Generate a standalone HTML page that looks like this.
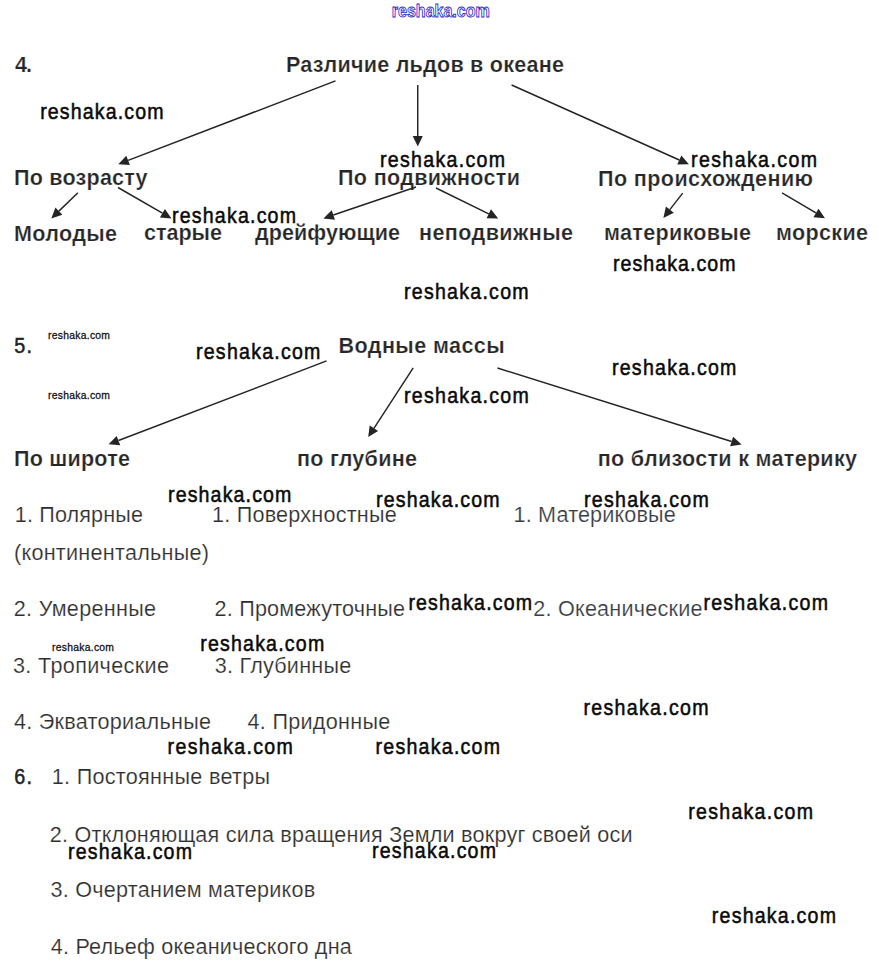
<!DOCTYPE html><html><head><meta charset="utf-8"><style>html,body{margin:0;padding:0;background:#fff;width:879px;height:979px;overflow:hidden}svg{display:block}</style></head><body>
<svg width="879" height="979" viewBox="0 0 879 979" font-family="Liberation Sans, sans-serif">
<rect width="879" height="979" fill="#fff"/>
<text transform="translate(15.00,72) scale(0.98,1)" font-size="22" font-weight="bold" fill="#262626" stroke="#fff" stroke-width="0.25" textLength="17.35" lengthAdjust="spacing">4.</text>
<text transform="translate(286.00,72) scale(0.98,1)" font-size="22" font-weight="bold" fill="#262626" stroke="#fff" stroke-width="0.25" textLength="283.67" lengthAdjust="spacing">Различие льдов в океане</text>
<text transform="translate(14.00,185) scale(0.98,1)" font-size="22" font-weight="bold" fill="#262626" stroke="#fff" stroke-width="0.25" textLength="136.33" lengthAdjust="spacing">По возрасту</text>
<text transform="translate(338.00,185) scale(0.98,1)" font-size="22" font-weight="bold" fill="#262626" stroke="#fff" stroke-width="0.25" textLength="185.71" lengthAdjust="spacing">По подвижности</text>
<text transform="translate(598.00,186) scale(0.98,1)" font-size="22" font-weight="bold" fill="#262626" stroke="#fff" stroke-width="0.25" textLength="219.39" lengthAdjust="spacing">По происхождению</text>
<text transform="translate(14.00,240.5) scale(0.98,1)" font-size="22" font-weight="bold" fill="#262626" stroke="#fff" stroke-width="0.25" textLength="105.10" lengthAdjust="spacing">Молодые</text>
<text transform="translate(144.00,240) scale(0.98,1)" font-size="22" font-weight="bold" fill="#262626" stroke="#fff" stroke-width="0.25" textLength="79.59" lengthAdjust="spacing">старые</text>
<text transform="translate(255.00,240) scale(0.98,1)" font-size="22" font-weight="bold" fill="#262626" stroke="#fff" stroke-width="0.25" textLength="147.96" lengthAdjust="spacing">дрейфующие</text>
<text transform="translate(419.00,240) scale(0.98,1)" font-size="22" font-weight="bold" fill="#262626" stroke="#fff" stroke-width="0.25" textLength="157.14" lengthAdjust="spacing">неподвижные</text>
<text transform="translate(604.00,240) scale(0.98,1)" font-size="22" font-weight="bold" fill="#262626" stroke="#fff" stroke-width="0.25" textLength="150.00" lengthAdjust="spacing">материковые</text>
<text transform="translate(776.00,240) scale(0.98,1)" font-size="22" font-weight="bold" fill="#262626" stroke="#fff" stroke-width="0.25" textLength="93.88" lengthAdjust="spacing">морские</text>
<text transform="translate(338.60,352.7) scale(0.98,1)" font-size="22" font-weight="bold" fill="#262626" stroke="#fff" stroke-width="0.25" textLength="169.39" lengthAdjust="spacing">Водные массы</text>
<text transform="translate(14.00,466) scale(0.98,1)" font-size="22" font-weight="bold" fill="#262626" stroke="#fff" stroke-width="0.25" textLength="118.37" lengthAdjust="spacing">По широте</text>
<text transform="translate(297.00,466) scale(0.98,1)" font-size="22" font-weight="bold" fill="#262626" stroke="#fff" stroke-width="0.25" textLength="122.45" lengthAdjust="spacing">по глубине</text>
<text transform="translate(597.80,466) scale(0.98,1)" font-size="22" font-weight="bold" fill="#262626" stroke="#fff" stroke-width="0.25" textLength="264.49" lengthAdjust="spacing">по близости к материку</text>
<text transform="translate(14.20,352.6) scale(0.9,1)" font-size="22" fill="#222" stroke="#222" stroke-width="0.5" textLength="19.78" lengthAdjust="spacing">5.</text>
<text transform="translate(14.20,784.4) scale(0.9,1)" font-size="22" fill="#222" stroke="#222" stroke-width="0.5" textLength="19.78" lengthAdjust="spacing">6.</text>
<text transform="translate(14.80,521.5) scale(0.96,1)" font-size="22.5" fill="#2e2e2e" stroke="#fff" stroke-width="0.2" textLength="133.54" lengthAdjust="spacing">1. Полярные</text>
<text transform="translate(14.00,560) scale(0.96,1)" font-size="22.5" fill="#2e2e2e" stroke="#fff" stroke-width="0.2" textLength="203.12" lengthAdjust="spacing">(континентальные)</text>
<text transform="translate(212.00,521.5) scale(0.96,1)" font-size="22.5" fill="#2e2e2e" stroke="#fff" stroke-width="0.2" textLength="192.50" lengthAdjust="spacing">1. Поверхностные</text>
<text transform="translate(13.80,615.7) scale(0.96,1)" font-size="22.5" fill="#2e2e2e" stroke="#fff" stroke-width="0.2" textLength="148.13" lengthAdjust="spacing">2. Умеренные</text>
<text transform="translate(214.60,615.7) scale(0.96,1)" font-size="22.5" fill="#2e2e2e" stroke="#fff" stroke-width="0.2" textLength="198.33" lengthAdjust="spacing">2. Промежуточные</text>
<text transform="translate(13.00,672.5) scale(0.96,1)" font-size="22.5" fill="#2e2e2e" stroke="#fff" stroke-width="0.2" textLength="162.50" lengthAdjust="spacing">3. Тропические</text>
<text transform="translate(214.80,672.5) scale(0.96,1)" font-size="22.5" fill="#2e2e2e" stroke="#fff" stroke-width="0.2" textLength="142.08" lengthAdjust="spacing">3. Глубинные</text>
<text transform="translate(14.00,728.75) scale(0.96,1)" font-size="22.5" fill="#2e2e2e" stroke="#fff" stroke-width="0.2" textLength="205.21" lengthAdjust="spacing">4. Экваториальные</text>
<text transform="translate(247.60,728.6) scale(0.96,1)" font-size="22.5" fill="#2e2e2e" stroke="#fff" stroke-width="0.2" textLength="148.54" lengthAdjust="spacing">4. Придонные</text>
<text transform="translate(51.80,784.4) scale(0.96,1)" font-size="22.5" fill="#2e2e2e" stroke="#fff" stroke-width="0.2" textLength="227.29" lengthAdjust="spacing">1. Постоянные ветры</text>
<text transform="translate(49.80,841.5) scale(0.96,1)" font-size="22.5" fill="#2e2e2e" stroke="#fff" stroke-width="0.2" textLength="607.08" lengthAdjust="spacing">2. Отклоняющая сила вращения Земли вокруг своей оси</text>
<text transform="translate(50.60,897) scale(0.96,1)" font-size="22.5" fill="#2e2e2e" stroke="#fff" stroke-width="0.2" textLength="275.63" lengthAdjust="spacing">3. Очертанием материков</text>
<text transform="translate(50.80,953.6) scale(0.96,1)" font-size="22.5" fill="#2e2e2e" stroke="#fff" stroke-width="0.2" textLength="313.54" lengthAdjust="spacing">4. Рельеф океанического дна</text>
<text transform="translate(513.60,521.5) scale(0.96,1)" font-size="22.5" fill="#363b44" stroke="#fff" stroke-width="0.2" textLength="168.96" lengthAdjust="spacing">1. Материковые</text>
<text transform="translate(533.20,615.7) scale(0.96,1)" font-size="22.5" fill="#363b44" stroke="#fff" stroke-width="0.2" textLength="176.46" lengthAdjust="spacing">2. Океанические</text>
<text transform="translate(40.20,119.3) scale(0.87,1)" font-size="22.5" fill="#0a0a0a" stroke="#0a0a0a" stroke-width="0.55" textLength="141.84" lengthAdjust="spacing">reshaka.com</text>
<text transform="translate(380.00,166.7) scale(0.87,1)" font-size="22.5" fill="#0a0a0a" stroke="#0a0a0a" stroke-width="0.55" textLength="143.68" lengthAdjust="spacing">reshaka.com</text>
<text transform="translate(691.00,166.7) scale(0.87,1)" font-size="22.5" fill="#0a0a0a" stroke="#0a0a0a" stroke-width="0.55" textLength="144.83" lengthAdjust="spacing">reshaka.com</text>
<text transform="translate(172.00,223.2) scale(0.87,1)" font-size="22.5" fill="#0a0a0a" stroke="#0a0a0a" stroke-width="0.55" textLength="142.53" lengthAdjust="spacing">reshaka.com</text>
<text transform="translate(613.00,271.0) scale(0.87,1)" font-size="22.5" fill="#0a0a0a" stroke="#0a0a0a" stroke-width="0.55" textLength="140.92" lengthAdjust="spacing">reshaka.com</text>
<text transform="translate(404.00,299.09999999999997) scale(0.87,1)" font-size="22.5" fill="#0a0a0a" stroke="#0a0a0a" stroke-width="0.55" textLength="143.22" lengthAdjust="spacing">reshaka.com</text>
<text transform="translate(196.00,359.4) scale(0.87,1)" font-size="22.5" fill="#0a0a0a" stroke="#0a0a0a" stroke-width="0.55" textLength="142.99" lengthAdjust="spacing">reshaka.com</text>
<text transform="translate(612.00,375.0) scale(0.87,1)" font-size="22.5" fill="#0a0a0a" stroke="#0a0a0a" stroke-width="0.55" textLength="142.99" lengthAdjust="spacing">reshaka.com</text>
<text transform="translate(404.00,402.59999999999997) scale(0.87,1)" font-size="22.5" fill="#0a0a0a" stroke="#0a0a0a" stroke-width="0.55" textLength="143.45" lengthAdjust="spacing">reshaka.com</text>
<text transform="translate(168.00,502.4) scale(0.87,1)" font-size="22.5" fill="#0a0a0a" stroke="#0a0a0a" stroke-width="0.55" textLength="141.84" lengthAdjust="spacing">reshaka.com</text>
<text transform="translate(376.00,506.59999999999997) scale(0.87,1)" font-size="22.5" fill="#0a0a0a" stroke="#0a0a0a" stroke-width="0.55" textLength="142.07" lengthAdjust="spacing">reshaka.com</text>
<text transform="translate(584.00,506.59999999999997) scale(0.87,1)" font-size="22.5" fill="#0a0a0a" stroke="#0a0a0a" stroke-width="0.55" textLength="143.45" lengthAdjust="spacing">reshaka.com</text>
<text transform="translate(408.40,610.3000000000001) scale(0.87,1)" font-size="22.5" fill="#0a0a0a" stroke="#0a0a0a" stroke-width="0.55" textLength="142.07" lengthAdjust="spacing">reshaka.com</text>
<text transform="translate(703.40,610.3000000000001) scale(0.87,1)" font-size="22.5" fill="#0a0a0a" stroke="#0a0a0a" stroke-width="0.55" textLength="143.22" lengthAdjust="spacing">reshaka.com</text>
<text transform="translate(200.20,650.9000000000001) scale(0.87,1)" font-size="22.5" fill="#0a0a0a" stroke="#0a0a0a" stroke-width="0.55" textLength="142.53" lengthAdjust="spacing">reshaka.com</text>
<text transform="translate(583.40,715.3000000000001) scale(0.87,1)" font-size="22.5" fill="#0a0a0a" stroke="#0a0a0a" stroke-width="0.55" textLength="143.91" lengthAdjust="spacing">reshaka.com</text>
<text transform="translate(167.60,753.7) scale(0.87,1)" font-size="22.5" fill="#0a0a0a" stroke="#0a0a0a" stroke-width="0.55" textLength="143.91" lengthAdjust="spacing">reshaka.com</text>
<text transform="translate(375.60,753.7) scale(0.87,1)" font-size="22.5" fill="#0a0a0a" stroke="#0a0a0a" stroke-width="0.55" textLength="142.99" lengthAdjust="spacing">reshaka.com</text>
<text transform="translate(688.20,819.1) scale(0.87,1)" font-size="22.5" fill="#0a0a0a" stroke="#0a0a0a" stroke-width="0.55" textLength="143.45" lengthAdjust="spacing">reshaka.com</text>
<text transform="translate(68.00,858.7) scale(0.87,1)" font-size="22.5" fill="#0a0a0a" stroke="#0a0a0a" stroke-width="0.55" textLength="142.53" lengthAdjust="spacing">reshaka.com</text>
<text transform="translate(372.00,857.7) scale(0.87,1)" font-size="22.5" fill="#0a0a0a" stroke="#0a0a0a" stroke-width="0.55" textLength="142.53" lengthAdjust="spacing">reshaka.com</text>
<text transform="translate(711.80,922.7) scale(0.87,1)" font-size="22.5" fill="#0a0a0a" stroke="#0a0a0a" stroke-width="0.55" textLength="142.76" lengthAdjust="spacing">reshaka.com</text>
<text transform="translate(48.00,339) scale(0.9,1)" font-size="11.5" fill="#111" stroke="#111" stroke-width="0.3" textLength="68.89" lengthAdjust="spacing">reshaka.com</text>
<text transform="translate(48.00,399) scale(0.9,1)" font-size="11.5" fill="#111" stroke="#111" stroke-width="0.3" textLength="68.89" lengthAdjust="spacing">reshaka.com</text>
<text transform="translate(52.00,650.75) scale(0.9,1)" font-size="11.5" fill="#111" stroke="#111" stroke-width="0.3" textLength="68.89" lengthAdjust="spacing">reshaka.com</text>
<text transform="translate(391.80,17) scale(0.92,1)" font-size="17.5" font-weight="bold" fill="#ffffff" stroke="#2828c8" stroke-width="0.85" textLength="106.52" lengthAdjust="spacing">reshaka.com</text>
<g fill="#242424" stroke="#242424">
<line x1="335.5" y1="80.9" x2="128.10" y2="160.44" stroke-width="1.45"/>
<polygon stroke="none" points="118.30,164.20 126.31,155.77 129.89,165.11"/>
<line x1="417.75" y1="85" x2="417.75" y2="135.90" stroke-width="1.45"/>
<polygon stroke="none" points="417.75,146.40 412.75,135.90 422.75,135.90"/>
<line x1="511.6" y1="85" x2="679.32" y2="160.01" stroke-width="1.45"/>
<polygon stroke="none" points="688.90,164.30 677.27,164.58 681.36,155.45"/>
<line x1="77.9" y1="192.85" x2="58.87" y2="211.13" stroke-width="1.45"/>
<polygon stroke="none" points="51.30,218.40 55.41,207.52 62.34,214.73"/>
<line x1="118" y1="187.5" x2="162.41" y2="213.24" stroke-width="1.45"/>
<polygon stroke="none" points="171.50,218.50 159.91,217.56 164.92,208.91"/>
<line x1="416" y1="187" x2="333.34" y2="215.03" stroke-width="1.45"/>
<polygon stroke="none" points="323.40,218.40 331.74,210.29 334.95,219.76"/>
<line x1="436" y1="188" x2="488.77" y2="213.79" stroke-width="1.45"/>
<polygon stroke="none" points="498.20,218.40 486.57,218.28 490.96,209.30"/>
<line x1="682.7" y1="193.1" x2="669.85" y2="209.61" stroke-width="1.45"/>
<polygon stroke="none" points="663.40,217.90 665.90,206.54 673.79,212.68"/>
<line x1="782" y1="192.85" x2="815.96" y2="212.95" stroke-width="1.45"/>
<polygon stroke="none" points="825.00,218.30 813.42,217.25 818.51,208.65"/>
<line x1="326.6" y1="360.9" x2="118.46" y2="440.55" stroke-width="1.45"/>
<polygon stroke="none" points="108.65,444.30 116.67,435.88 120.24,445.22"/>
<line x1="413.2" y1="367.8" x2="373.92" y2="428.29" stroke-width="1.45"/>
<polygon stroke="none" points="368.20,437.10 369.72,425.57 378.11,431.02"/>
<line x1="497.5" y1="368" x2="731.58" y2="441.46" stroke-width="1.45"/>
<polygon stroke="none" points="741.60,444.60 730.08,446.23 733.08,436.69"/>
</g></svg></body></html>
